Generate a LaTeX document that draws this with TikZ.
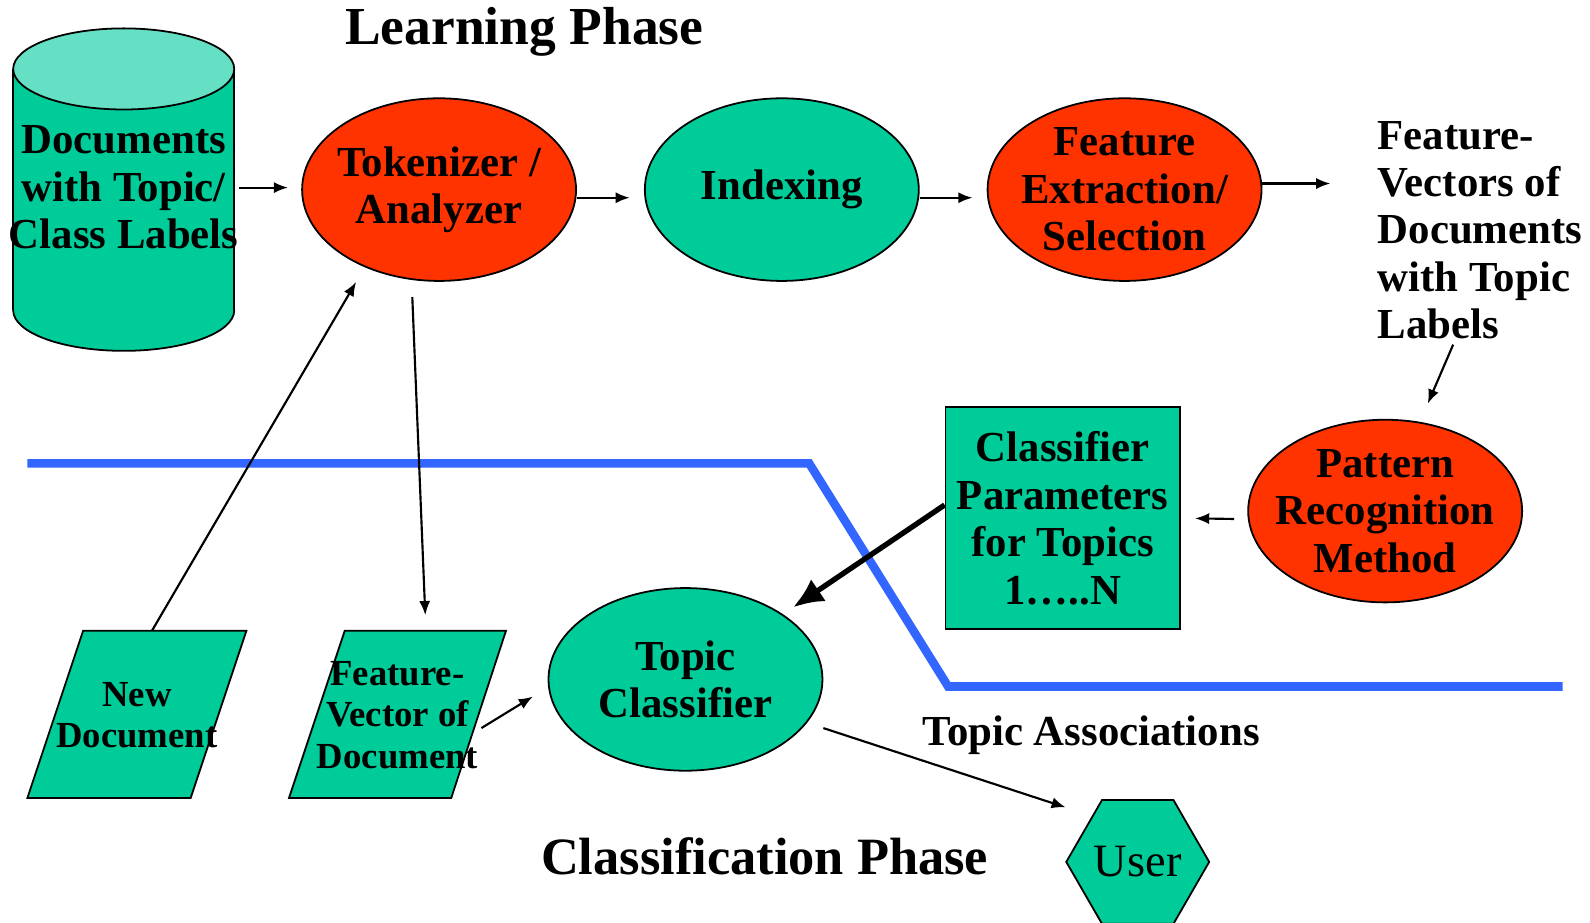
\documentclass[tikz,border=0pt]{standalone}
\usepackage{fontspec}
\setmainfont{Liberation Serif}
\usetikzlibrary{shapes.geometric,arrows.meta}
\definecolor{tgreen}{HTML}{00CC99}
\definecolor{tlight}{HTML}{66E0C4}
\definecolor{tred}{HTML}{FF3300}
\definecolor{tblue}{HTML}{3366FF}
\begin{document}
\begin{tikzpicture}[x=0.01cm,y=-0.01cm]

    \tikzset{
      txt/.style={
        align=center,
        inner sep=0pt,
        font=\bfseries\fontsize{12}{13.3}\selectfont,
      },
      txtsmall/.style={
        align=center,
        inner sep=0pt,
        font=\bfseries\fontsize{10.3}{11.6}\selectfont,
      },
      blob/.style={
        txt,
        ellipse,
        draw,
        line width=0.5pt,
        inner xsep=-0.25cm,
        inner ysep=-0.2cm,
        minimum width=2.70cm,
        minimum height=1.80cm,
      },
      arr/.style={
        line width=0.6pt,
        >={Latex[length=0.14cm,width=0.11cm]},->,
      },
    }
    \useasboundingbox (0,0) rectangle (1568,910);

	% border between the two phases
	\draw[color={tblue}, line width=2.4pt] (27,457)--(798,457)--(935,677)--(1541,677);

	\node[font=\bfseries\fontsize{15}{17}\selectfont] (learn) at (517,31) {Learning Phase};
	\node[font=\bfseries\fontsize{14.7}{17}\selectfont] (classify) at (754,844) {Classification Phase};

	% cylinder
	\draw[fill={tgreen}, line width=0.5pt] (122,306) ellipse [x radius=109, y radius=40];
	\fill[color={tgreen}] (13,306) rectangle (231,68);
	\draw[line width=0.5pt] (13,68)--(13,306) (231,68)--(231,306);
	\draw[fill={tlight}, line width=0.5pt] (122,68) ellipse [x radius=109, y radius=40];
	\node[txt, minimum width=2.18cm] (docs) at (122,185) {Documents\\with Topic/\\Class Labels};

	\node[blob, fill={tred}] (tok) at (433,187) {Tokenizer /\\Analyzer};
	\node[blob, fill={tgreen}] (idx) at (771,187) {Indexing};
	\node[blob, fill={tred}] (fe) at (1109,187) {Feature\\Extraction/\\Selection};
	\node[txt, align=left, anchor=west] (fvs) at (1358,227) {Feature-\\Vectors of\\Documents\\with Topic\\Labels};
	\node[blob, fill={tred}] (pat) at (1366,504) {Pattern\\Recognition\\Method};
	\node[txt, draw, fill={tgreen}, line width=0.5pt, minimum width=2.31cm, minimum height=2.19cm] (params) at (1048,511) {Classifier\\Parameters\\for Topics\\1\dots..N};
	\node[blob, fill={tgreen}] (tc) at (676,670) {Topic\\Classifier};

	% parallelograms
	\draw[fill={tgreen}, line width=0.5pt] (82,622)--(243,622)--(188,787)--(27,787)--cycle;
	\node[txtsmall, minimum width=1.6cm, minimum height=1.65cm] (newdoc) at (135,705) {New\\Document};
	\draw[fill={tgreen}, line width=0.5pt] (340,622)--(499,622)--(445,787)--(285,787)--cycle;
	\node[txtsmall, minimum width=1.6cm, minimum height=1.65cm] (fvec) at (392,705) {Feature-\\Vector of\\Document};

	\node[regular polygon, regular polygon sides=6, draw, fill={tgreen}, line width=0.5pt, minimum size=1.34cm, inner sep=0pt, font=\fontsize{13}{15}\selectfont] (user) at (1122,850) {User};
	\node[txt] (assoc) at (1076,725) {Topic Associations};

	% learning phase
	\draw[arr, shorten >=0.13cm] (docs.east)--(docs.east -| tok.west);
	\draw[arr, shorten >=0.14cm] ([yshift=-0.08cm]tok.east)--([yshift=-0.08cm]idx.west);
	\draw[arr, shorten >=0.14cm] ([yshift=-0.08cm]idx.east)--([yshift=-0.08cm]fe.west);
	\draw[arr, shorten >=0.46cm] ([yshift=0.06cm]fe.east)--([yshift=0.06cm]fe.east -| fvs.west);
	\draw[arr, shorten <=0.05cm] ([xshift=0.77cm]fvs.south west)--([xshift=0.42cm,yshift=0.15cm]pat.north);
	\draw[arr, shorten <=0.13cm, shorten >=0.14cm] ([yshift=-0.08cm]pat.west)--(params.east);

	% classification phase
	\draw[line width=1.5pt, >={Latex[length=0.3cm,width=0.26cm]}, ->, shorten >=0.12cm] ([yshift=0.13cm]params.west)--(tc.north east);
	\draw[arr, shorten >=0.31cm] ([xshift=0.15cm]newdoc.north)--([xshift=0.3cm]tok.south west);
	\draw[arr, shorten <=0.15cm, shorten >=0.15cm] ([xshift=-0.27cm]tok.south)--([xshift=0.28cm]fvec.north);
	\draw[arr, shorten >=0.17cm] ([xshift=0.02cm,yshift=-0.13cm]fvec.east)--([yshift=-0.08cm]tc.west);
	\draw[arr, shorten >=0.27cm] ([yshift=-0.48cm]tc.east)--(user.north west);

\end{tikzpicture}
\end{document}
